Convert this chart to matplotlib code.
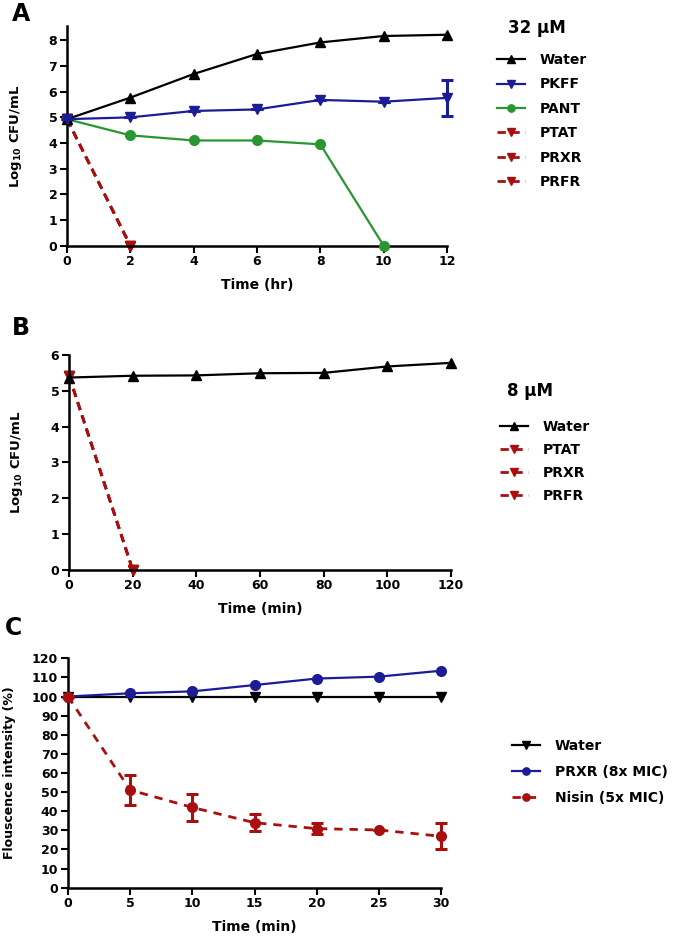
import matplotlib
matplotlib.use("Agg")
import matplotlib.pyplot as plt

plt.rcParams['font.family'] = ['DejaVu Sans']
plt.rcParams['font.weight'] = 'bold'
plt.rcParams['axes.labelweight'] = 'bold'
plt.rcParams['mathtext.fontset'] = 'custom'
plt.rcParams['mathtext.rm'] = 'DejaVu Sans:bold'
plt.rcParams['mathtext.bf'] = 'DejaVu Sans:bold'

# ---------------- data ----------------
# Panel A (32 uM), time in hours
a_time = [0, 2, 4, 6, 8, 10, 12]
a_water = [4.93, 5.77, 6.69, 7.47, 7.92, 8.17, 8.22]
a_pkff = [4.93, 5.00, 5.25, 5.31, 5.68, 5.61, 5.76]
a_pkff_err = [0, 0, 0, 0, 0, 0, 0.69]
a_pant_time = [0, 2, 4, 6, 8, 10]
a_pant = [4.93, 4.30, 4.10, 4.10, 3.95, 0.0]
a_kill_time = [0, 2]
a_ptat = [4.93, 0.0]
a_prxr = [4.93, 0.0]
a_prfr = [4.93, 0.0]

# Panel B (8 uM), time in min
b_time = [0, 20, 40, 60, 80, 100, 120]
b_water = [5.37, 5.42, 5.43, 5.49, 5.50, 5.68, 5.78]
b_kill_time = [0, 20]
b_ptat = [5.42, 0.0]
b_prxr = [5.42, 0.0]
b_prfr = [5.42, 0.0]

# Panel C, fluorescence intensity (%)
c_time = [0, 5, 10, 15, 20, 25, 30]
c_water = [100, 100, 100, 100, 100, 100, 100]
c_prxr = [100, 101.7, 102.7, 106.0, 109.4, 110.4, 113.5]
c_nisin = [100, 51.1, 42.0, 34.0, 30.9, 30.2, 26.9]
c_nisin_err = [0, 8.0, 7.0, 4.5, 3.0, 0, 6.8]

BLACK = '#000000'
BLUE = '#1c1c96'
GREEN = '#2a9632'
RED = '#a80f0f'

W, H = 675, 942
fig = plt.figure(figsize=(W / 100, H / 100), dpi=100)


def ax_rect(left, right, top, bottom):
    return [left / W, 1 - bottom / H, (right - left) / W, (bottom - top) / H]


def style(ax):
    for s in ['top', 'right']:
        ax.spines[s].set_visible(False)
    for s in ['left', 'bottom']:
        ax.spines[s].set_linewidth(1.8)
    ax.tick_params(axis='both', direction='out', length=5, width=1.5,
                   labelsize=9, pad=2)
    for lab in ax.get_xticklabels() + ax.get_yticklabels():
        lab.set_fontweight('bold')


lw = 1.6
ms = 7
DASH = (0, (3, 2))

# ---------------- Panel A ----------------
axA = fig.add_axes(ax_rect(67, 447, 26, 245.7))
axA.plot(a_time, a_water, color=BLACK, lw=lw, marker='^', ms=ms, clip_on=False, label='Water', zorder=4)
axA.plot(a_time, a_pkff, color=BLUE, lw=lw, marker='v', ms=ms, clip_on=False, label='PKFF', zorder=4)
axA.errorbar(a_time, a_pkff, yerr=a_pkff_err, fmt='none', ecolor=BLUE,
             capsize=4, elinewidth=2.2, capthick=2.2, clip_on=False, zorder=4)
axA.plot(a_pant_time, a_pant, color=GREEN, lw=lw, marker='o', ms=ms, clip_on=False, label='PANT', zorder=3)
for yv, nm in [(a_ptat, 'PTAT'), (a_prxr, 'PRXR'), (a_prfr, 'PRFR')]:
    axA.plot(a_kill_time, yv, color=RED, lw=2, ls=DASH, marker='v', ms=ms,
             clip_on=False, label=nm, zorder=2)
axA.set_xlim(0, 12)
axA.set_ylim(0, 8.56)
axA.set_xticks(a_time)
axA.set_yticks(range(0, 9))
axA.set_xlabel('Time (hr)', fontsize=10, labelpad=7)
axA.set_ylabel(r'Log$_{10}$ CFU/mL', fontsize=9.5)
style(axA)
axA.yaxis.set_label_coords((24 - 67) / (447 - 67), 0.5)

# ---------------- Panel B ----------------
axB = fig.add_axes(ax_rect(69, 451, 355, 569.7))
axB.plot(b_time, b_water, color=BLACK, lw=lw, marker='^', ms=ms, clip_on=False, label='Water', zorder=4)
for yv, nm in [(b_ptat, 'PTAT'), (b_prxr, 'PRXR'), (b_prfr, 'PRFR')]:
    axB.plot(b_kill_time, yv, color=RED, lw=2, ls=DASH, marker='v', ms=ms,
             clip_on=False, label=nm, zorder=2)
axB.set_xlim(0, 120)
axB.set_ylim(0, 6)
axB.set_xticks(b_time)
axB.set_yticks(range(0, 7))
axB.set_xlabel('Time (min)', fontsize=10, labelpad=7)
axB.set_ylabel(r'Log$_{10}$ CFU/mL', fontsize=9.5)
style(axB)
axB.yaxis.set_label_coords((25 - 69) / (451 - 69), 0.5)

# ---------------- Panel C ----------------
axC = fig.add_axes(ax_rect(68, 441, 658.3, 887.7))
axC.plot(c_time, c_water, color=BLACK, lw=lw, marker='v', ms=ms, clip_on=False, label='Water', zorder=3)
axC.plot(c_time, c_prxr, color=BLUE, lw=lw, marker='o', ms=ms, clip_on=False, label='PRXR (8x MIC)', zorder=4)
axC.plot(c_time, c_nisin, color=RED, lw=2, ls=(0, (3, 2.5)), marker='o', ms=ms,
         clip_on=False, label='Nisin (5x MIC)', zorder=4)
axC.errorbar(c_time, c_nisin, yerr=c_nisin_err, fmt='none', ecolor=RED,
             capsize=4, elinewidth=2.2, capthick=2.2, clip_on=False, zorder=4)
axC.set_xlim(0, 30)
axC.set_ylim(0, 120)
axC.set_xticks(c_time)
axC.set_yticks(range(0, 121, 10))
axC.set_xlabel('Time (min)', fontsize=10, labelpad=7)
axC.set_ylabel('Flouscence intensity (%)', fontsize=9)
style(axC)
axC.yaxis.set_label_coords((16 - 68) / (441 - 68), 0.5)

# ---------------- panel letters & titles ----------------
fig.text(12 / W, 1 - 14 / H, 'A', fontsize=17, fontweight='bold', va='center', ha='left')
fig.text(12 / W, 1 - 328 / H, 'B', fontsize=17, fontweight='bold', va='center', ha='left')
fig.text(5 / W, 1 - 628 / H, 'C', fontsize=17, fontweight='bold', va='center', ha='left')
fig.text(508 / W, 1 - 28 / H, '32 µM', fontsize=12, fontweight='bold', va='center', ha='left')
fig.text(507 / W, 1 - 391 / H, '8 µM', fontsize=12, fontweight='bold', va='center', ha='left')


def add_legend(ax, x, y_top, spacing):
    h, l = ax.get_legend_handles_labels()
    leg = fig.legend(h, l, loc='upper left', bbox_to_anchor=(x / W, 1 - y_top / H),
                     frameon=False, handlelength=2.0, handletextpad=1.1,
                     labelspacing=spacing, borderpad=0, borderaxespad=0, markerscale=0.75,
                     prop={'weight': 'bold', 'size': 10})
    return leg


add_legend(axA, 497, 53, 0.75)
add_legend(axB, 500, 420, 0.65)
add_legend(axC, 512, 739, 0.85)

fig.savefig('out.png', dpi=100)
